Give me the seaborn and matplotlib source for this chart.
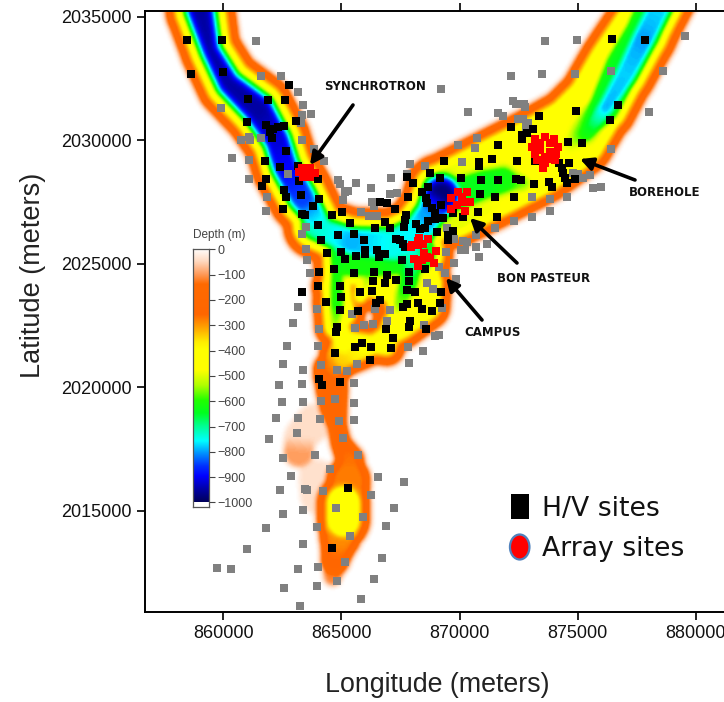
import numpy as np
import pandas as pd
import matplotlib
matplotlib.use("Agg")
import matplotlib.pyplot as plt
from matplotlib.colors import LinearSegmentedColormap
from matplotlib.patches import Rectangle, Ellipse
import seaborn as sns

# --- site readings (longitude km, latitude km) ---
hv_nw = [(858.48,2034.04),(859.93,2034.04),(858.62,2032.66),(859.97,2032.75),(862.80,2032.23),(861.04,2031.67),
 (861.91,2031.62),(862.63,2031.62),(861.00,2030.72),(863.09,2030.77),(861.82,2030.59),(862.58,2030.58),(862.33,2030.53),
 (862.12,2030.45),(861.98,2030.34),(862.06,2030.09),(862.67,2029.57),(861.78,2029.14),(862.40,2028.92),(863.18,2028.96),
 (863.20,2028.35),(861.81,2028.41),(861.62,2028.14)]
hv_ne = [(876.47,2034.08),(877.84,2034.03),(876.70,2031.40),(876.39,2030.81),(874.95,2031.16),(873.37,2030.99),(872.18,2030.51),
 (873.12,2030.43),(872.87,2030.30),(872.63,2030.20),(872.63,2030.03),(871.62,2029.78),(874.61,2029.91),(875.20,2029.87),
 (869.36,2029.14),(870.83,2029.12),(870.81,2028.95),(871.36,2029.22),(872.43,2029.14),(873.20,2029.14),(874.65,2029.08),
 (874.23,2029.06),(874.32,2028.85),(874.40,2028.65),(874.47,2028.45),(874.56,2028.27),(874.89,2028.41),(872.60,2028.37),
 (873.15,2028.21),(873.79,2028.31),(873.93,2028.08)]
hv_centre = [(867.78,2028.49),(868.04,2028.25),(868.76,2028.68),(869.19,2028.46),(870.08,2028.46),(870.92,2028.38),(871.64,2028.38),
 (872.38,2028.41),(863.99,2028.41),(862.58,2027.98),(862.67,2027.71),(863.30,2027.77),(864.06,2027.60),(863.81,2027.34),
 (862.54,2027.21),(863.32,2027.00),(863.46,2026.96),(864.62,2026.96),(865.01,2027.08),(864.02,2026.56),(865.35,2026.65),
 (867.83,2027.68),(868.68,2028.11),(868.42,2027.91),(868.57,2027.64),(868.64,2027.44),(868.82,2027.23),(868.96,2027.03),
 (869.23,2027.37),(870.88,2027.81),(871.49,2027.68),(872.32,2027.70),(866.63,2027.50),(866.92,2027.44),(867.27,2027.19),
 (867.73,2026.96),(867.69,2026.76),(867.65,2026.49),(866.84,2026.69),(867.06,2026.42),(866.42,2026.42),(868.16,2026.59),
 (868.68,2026.73),(868.54,2026.42),(868.33,2026.38),(869.06,2026.26),(868.96,2026.79),(869.31,2026.83),(869.74,2027.03),
 (870.16,2026.90),(870.77,2027.08),(871.57,2026.87),(869.74,2026.32),(869.50,2026.15),(869.50,2025.95),(864.84,2026.14),
 (865.52,2026.18),(865.94,2025.95),(864.15,2025.96),(867.30,2025.98),(867.48,2025.95),(867.59,2025.79),(867.71,2025.65),
 (864.97,2025.48),(864.38,2025.41),(865.14,2025.17),(865.60,2025.30),(866.00,2025.55),(866.00,2025.37),(866.51,2025.55),
 (866.59,2025.28),(866.84,2025.37),(867.56,2025.14),(864.67,2024.76),(864.06,2024.67),(865.52,2024.63),(866.38,2024.67),
 (866.92,2024.53),(867.86,2024.67),(868.54,2024.78),(864.02,2024.09),(864.93,2024.10),(866.84,2024.20),(867.31,2024.33),
 (867.87,2024.29),(866.32,2024.29),(866.29,2023.89),(865.79,2023.86),(863.35,2023.86),(867.78,2023.93),(868.11,2023.85),
 (869.23,2023.85),(864.97,2023.63),(864.33,2023.43),(866.63,2023.52),(866.46,2023.41),(867.79,2023.35),(867.59,2023.25),
 (868.26,2023.39),(868.40,2023.17),(869.19,2023.39),(868.82,2023.08),(864.93,2023.12),(865.69,2023.08),(864.83,2022.42),
 (864.76,2022.21),(867.90,2022.67),(867.87,2022.44),(866.89,2022.34),(868.58,2022.34),(867.20,2021.97),(865.86,2021.77),
 (865.57,2021.63),(866.24,2021.63),(867.11,2021.57),(864.74,2021.39),(866.21,2021.09),(864.06,2020.31),(864.19,2020.08),
 (864.94,2020.19)]
hv_south = [(865.26,2015.91),(864.59,2013.50)]

grey_nw = [(861.39,2033.99),(861.60,2032.60),(862.46,2032.60),(863.18,2031.93),(863.39,2031.40),(863.35,2031.03),(863.73,2031.07),
 (863.27,2030.68),(859.90,2031.28),(860.75,2029.99),(861.09,2030.14),(861.14,2029.99),(861.60,2030.08),(863.32,2029.99),
 (863.85,2029.64),(860.37,2029.26),(861.10,2029.18),(864.28,2029.14),(861.10,2028.41),(862.75,2028.62),(861.86,2027.71),
 (861.81,2027.11),(867.90,2029.04),(868.54,2028.95),(867.10,2028.46),(867.76,2028.62),(865.60,2028.27),(864.84,2028.38),
 (864.94,2028.22),(866.25,2028.06),(865.15,2027.91),(865.29,2027.94),(867.06,2027.80),(867.34,2027.84),(865.08,2027.56),
 (866.28,2027.50),(865.83,2027.07),(866.17,2026.94),(866.52,2026.94),(866.36,2027.34),(863.50,2026.49),(863.32,2026.20)]
grey_ne = [(873.62,2034.02),(874.99,2034.06),(879.55,2034.20),(872.18,2032.60),(873.49,2032.66),(874.90,2032.66),(876.43,2032.78),
 (878.60,2032.78),(869.23,2032.05),(872.26,2031.58),(872.38,2031.44),(872.73,2031.46),(872.77,2031.32),(870.37,2031.15),
 (871.63,2031.11),(871.83,2030.97),(878.01,2031.15),(872.49,2030.84),(872.70,2030.84),(872.88,2030.70),(872.80,2030.54),
 (870.73,2030.07),(869.95,2029.80),(870.64,2029.69),(876.43,2029.65),(870.12,2029.12),(874.82,2028.65),(875.03,2028.62),
 (875.52,2028.57),(875.21,2028.45),(876.00,2028.10),(875.67,2028.04),(873.07,2027.68),(874.56,2027.71),(873.85,2027.60),
 (873.85,2027.11),(873.07,2026.90),(872.31,2026.73),(871.49,2026.42),(869.46,2026.45),(870.68,2026.14)]
grey_centre = [(869.77,2025.99),(870.16,2025.91),(870.33,2025.89),(871.18,2025.79),(870.68,2025.65),(870.84,2025.26),(870.06,2025.55),
 (870.23,2025.55),(869.43,2025.48),(869.77,2025.01),(869.14,2024.84),(869.38,2024.60),(869.84,2024.37),(868.64,2024.20),
 (868.89,2023.98),(863.49,2025.57),(863.53,2025.14),(863.67,2024.63),(863.18,2023.25),(863.98,2023.16),(865.46,2022.95),
 (866.42,2023.14),(867.06,2023.12),(866.94,2022.69),(862.94,2022.60),(864.06,2022.34),(865.56,2022.39),(865.96,2022.51),
 (866.32,2022.56),(869.27,2023.20),(868.51,2022.50),(868.96,2022.06),(869.12,2022.09),(862.71,2021.66),(864.02,2021.66),
 (867.83,2021.62),(868.47,2021.44),(862.51,2020.93),(864.12,2020.89),(865.66,2020.93),(867.86,2020.98),(863.39,2020.67),
 (864.80,2020.67),(865.22,2020.63),(863.35,2020.11),(865.52,2020.15)]
grey_south = [(862.37,2020.07),(862.50,2019.38),(863.39,2019.38),(864.15,2019.42),(864.74,2019.50),(865.52,2019.34),(862.24,2018.73),
 (863.18,2018.73),(864.08,2018.69),(864.90,2018.61),(865.52,2018.65),(861.93,2017.88),(863.13,2018.14),(865.05,2017.92),
 (862.54,2017.14),(863.90,2017.23),(865.69,2017.23),(864.50,2016.68),(862.88,2016.41),(866.55,2016.34),(867.65,2016.17),
 (862.41,2015.82),(863.47,2015.87),(863.53,2015.82),(864.21,2015.78),(866.25,2015.61),(867.23,2015.09),(864.79,2015.09),
 (862.54,2014.84),(863.39,2015.01),(865.93,2014.75),(861.81,2014.28),(863.98,2014.33),(866.89,2014.36),(865.35,2013.98),
 (863.39,2013.63),(861.00,2013.45),(866.70,2013.06),(859.73,2012.69),(860.33,2012.65),(863.18,2012.65),(864.02,2012.73),
 (865.17,2012.90),(866.37,2012.21),(864.80,2012.13),(863.98,2011.96),(862.58,2011.86),(865.81,2011.40),(863.26,2011.13)]

array_synchrotron = [(863.32,2028.85),(863.67,2028.85),(863.88,2028.68),(863.67,2028.49),(863.39,2028.52),(863.20,2028.72),(863.53,2028.69)]
array_bon_pasteur = [(869.95,2027.91),(870.33,2027.88),(869.62,2027.64),(870.44,2027.48),(870.09,2027.50),(869.62,2027.19),(870.23,2027.14),(869.88,2027.37),(870.09,2027.70)]
array_campus_a = [(868.28,2026.05),(868.68,2025.99),(868.00,2025.75),(868.47,2025.79),(868.26,2025.75),(867.95,2025.65),(868.26,2025.92)]
array_campus_b = [(868.61,2025.25),(868.99,2025.52),(868.07,2025.20),(868.92,2025.03),(868.26,2024.91),(868.50,2025.41),(868.75,2025.21),(868.40,2025.14)]
array_borehole = [(873.62,2030.11),(874.00,2030.03),(874.18,2029.73),(874.08,2029.43),(873.62,2029.33),(873.20,2029.43),(873.06,2029.73),
 (873.20,2030.03),(873.41,2029.87),(873.83,2029.87),(873.41,2029.60),(873.83,2029.53),(873.55,2028.85),(873.27,2029.19),(874.04,2029.19),(873.62,2029.06),(873.69,2029.22)]

# --- basin thalwegs: (lon km, lat km, depth cap m, half width km) ---
nw_valley = [(858.95,2035.9,950,1.5),(859.01,2035.26,950,1.5),(859.44,2033.64,950,1.3),(860.21,2032.29,950,1.4),(861.48,2031.22,950,1.55),
 (862.26,2030.0,920,1.45),(862.61,2028.92,900,1.45),(863.32,2027.7,850,1.45),(864.16,2026.5,740,1.25)]
central_trough = [(863.81,2026.49,720,1.3),(865.43,2025.88,790,1.4),(867.20,2025.75,750,1.5),(868.19,2026.22,760,1.5),(868.75,2027.03,800,1.45),(869.24,2027.77,980,1.7)]
basin_floor = [(865.36,2025.21,620,1.5),(866.63,2025.21,620,1.5),(868.26,2025.41,640,1.5)]
west_arm = [(864.80,2026.09,720,1.05),(864.80,2024.74,620,1.0),(864.80,2023.39,610,1.05),(864.73,2022.44,540,.9)]
east_arm = [(868.04,2025.28,730,1.2),(867.83,2024.20,640,1.15),(867.48,2023.39,560,1.0),(867.20,2022.85,500,.7)]
mid_arm = [(866.21,2024.60,560,.95),(865.79,2023.66,480,.7)]
fill_centre = [(866.63,2024.74,470,1.6),(868.04,2024.33,470,1.6)]
fill_west = [(864.66,2024.06,450,.95),(865.08,2022.98,450,.95)]
fill_east = [(868.04,2023.12,440,.95),(867.20,2022.44,440,.95)]
fill_south = [(865.22,2021.90,420,.8),(866.92,2021.63,420,.8)]
sw_plateau = [(864.73,2022.98,420,.85),(865.08,2021.77,420,.85),(864.52,2020.69,250,.75)]
south_rim = [(868.75,2024.20,480,.95),(868.68,2023.25,440,.95),(867.62,2022.44,420,.9),(866.21,2021.63,420,.8),(865.08,2021.23,350,.85),(864.38,2020.42,250,.7)]
island_rim = [(866.49,2023.45,250,.55),(866.92,2022.85,250,.55),(866.63,2022.04,250,.55)]
south_tail = [(864.52,2020.69,250,.85),(864.59,2019.88,250,.8),(864.66,2019.20,250,.7),(864.83,2018.39,250,.52),(864.97,2017.72,250,.55),
 (865.36,2017.04,270,.72),(865.29,2016.23,280,1.05),(865.22,2015.63,280,1.1),(865.08,2015.29,470,1.15),(865.08,2014.62,450,1.15),
 (864.94,2013.94,290,1.0),(864.73,2012.99,260,.72),(864.62,2012.32,120,.45)]
pale_west = [(863.81,2018.53,45,.8),(863.25,2018.0,45,.7),(863.18,2017.38,100,.7)]
pale_south = [(863.95,2016.3,40,.8),(864.0,2015.6,40,.8)]
ne_envelope = [(878.63,2035.94,450,1.5),(877.92,2034.86,450,1.6),(876.65,2032.97,450,1.65),(875.81,2031.48,450,1.7),(874.82,2030.27,480,1.9),
 (873.27,2029.33,470,2.0),(871.29,2028.38,480,2.0),(869.60,2027.57,500,2.0)]
ne_mid = [(878.20,2035.26,640,1.5),(877.78,2034.32,640,1.5),(876.94,2032.97,640,1.5),(876.16,2031.35,640,1.4),(875.17,2030.27,560,1.15),(874.75,2029.87,500,.95)]
ne_deep = [(878.63,2035.67,770,1.35),(877.78,2034.05,800,1.35),(877.07,2032.70,780,1.3),(876.23,2031.35,790,1.2),(875.38,2030.27,620,1.1),(874.68,2029.87,520,.9)]
ne_green = [(869.90,2027.80,640,1.4),(871.01,2028.18,640,1.35),(871.85,2028.38,620,1.3),(872.70,2028.25,560,1.0)]
depth_chains = [nw_valley, central_trough, basin_floor, west_arm, east_arm, mid_arm, fill_centre, fill_west, fill_east, fill_south,
                sw_plateau, south_rim, island_rim, south_tail, pale_west, pale_south, ne_envelope, ne_mid, ne_deep, ne_green]

# depth (m) against distance inside the basin edge (km)
edge_distance = [0, .05, .12, .2, .45, .6, .8, .97, 1.05, 1.15, 1.45]
edge_depth = [0, 60, 120, 170, 285, 370, 490, 670, 770, 890, 1000]

x_ticks = [860000, 865000, 870000, 875000, 880000]
y_ticks = [2015000, 2020000, 2025000, 2030000, 2035000]
depth_ticks = [0, -100, -200, -300, -400, -500, -600, -700, -800, -900, -1000]
depth_stops = [(0,"#ffffff"),(50,"#ffd9c0"),(100,"#ff9c5c"),(140,"#ff6a00"),(260,"#ff6600"),(310,"#ffa000"),(370,"#ffee00"),
 (400,"#ffff00"),(480,"#ffff00"),(540,"#b0ff00"),(600,"#20ff00"),(650,"#00ff20"),(700,"#00ff90"),(760,"#00ffff"),
 (810,"#0090ff"),(860,"#0030ff"),(900,"#0000ff"),(950,"#0000a8"),(1000,"#00005c")]

def to_pix_x(px): return px / 724
def to_pix_y(py): return 1 - py / 702

sns.set_style("ticks")
plt.rcParams["font.family"] = ["Liberation Sans", "DejaVu Sans"]

# rasterise thalwegs
xs = np.arange(856.4, 881.5, 0.05)
ys = np.arange(2010.6, 2035.6, 0.05)
X, Y = np.meshgrid(xs, ys)
field = np.zeros_like(X)
for chain in depth_chains:
    for (x0, y0, d0, w0), (x1, y1, d1, w1) in zip(chain[:-1], chain[1:]):
        dx, dy = x1 - x0, y1 - y0
        t = np.clip(((X - x0) * dx + (Y - y0) * dy) / (dx * dx + dy * dy), 0, 1)
        dist = np.hypot(X - x0 - t * dx, Y - y0 - t * dy)
        d = d0 + t * (d1 - d0)
        w = w0 + t * (w1 - w0) + np.where(d > 300, 0.1, 0.0)
        inside = np.clip(w - dist, 0, None)
        field = np.maximum(field, np.minimum(d, np.interp(inside, edge_distance, edge_depth)))
kernel = np.ones(5) / 5
for _ in range(2):
    field = np.apply_along_axis(lambda v: np.convolve(v, kernel, mode="same"), 0, field)
    field = np.apply_along_axis(lambda v: np.convolve(v, kernel, mode="same"), 1, field)

cmap = LinearSegmentedColormap.from_list("depth", [(a / 1000, c) for a, c in depth_stops])

def frame(*groups):
    pts = [p for g in groups for p in g]
    return pd.DataFrame({"lon": [p[0] * 1000 for p in pts], "lat": [p[1] * 1000 for p in pts]})

fig = plt.figure(figsize=(7.24, 7.02), dpi=100)
ax = fig.add_axes([145 / 724, 1 - 611.7 / 702, (724 - 145) / 724, (611.7 - 10.5) / 702])
ax.imshow(field, origin="lower", extent=[xs[0] * 1000, xs[-1] * 1000, ys[0] * 1000, ys[-1] * 1000],
          cmap=cmap, vmin=0, vmax=1000, interpolation="bilinear", aspect="auto", zorder=1)

sns.scatterplot(data=frame(grey_nw, grey_ne, grey_centre, grey_south), x="lon", y="lat", marker="s", s=32,
                color="#808080", linewidth=0, ax=ax, zorder=3, legend=False)
sns.scatterplot(data=frame(hv_nw, hv_ne, hv_centre, hv_south), x="lon", y="lat", marker="s", s=30,
                color="black", linewidth=0, ax=ax, zorder=4, legend=False)
sns.scatterplot(data=frame(array_synchrotron, array_bon_pasteur, array_campus_a, array_campus_b, array_borehole),
                x="lon", y="lat", marker="s", s=36, color="#ff0000", linewidth=0, ax=ax, zorder=5, legend=False)

ax.set_xlim(856685, 881198)
ax.set_ylim(2010903, 2035243)
ax.set_xticks(x_ticks)
ax.set_yticks(y_ticks)
ax.ticklabel_format(style="plain", useOffset=False)
ax.tick_params(axis="both", which="major", length=5.5, width=1.3, labelsize=13, colors="#111111", pad=4,
               top=True, bottom=True, left=True, right=False)
for name, spine in ax.spines.items():
    spine.set_linewidth(1.4)
    spine.set_color("black")
ax.spines["right"].set_visible(False)
ax.set_xlabel("")
ax.set_ylabel("")

fig.text(to_pix_x(437.5), to_pix_y(685), "Longitude (meters)", fontsize=19.3, ha="center", va="center", color="#222222")
fig.text(to_pix_x(33), to_pix_y(275), "Latitude (meters)", fontsize=19.5, ha="center", va="center", rotation=90, color="#222222")

# colour scale
cax = fig.add_axes([192.7 / 724, 1 - 507 / 702, 16 / 724, (507 - 249.3) / 702])
cax.imshow(np.linspace(0, 1000, 256)[:, None], cmap=cmap, vmin=0, vmax=1000, extent=[0, 1, -1000, 0], aspect="auto", origin="upper")
cax.set_ylim(-1018, 0)
cax.set_xlim(0, 1)
cax.set_xticks([])
cax.yaxis.tick_right()
cax.set_yticks(depth_ticks)
cax.tick_params(axis="y", length=4.5, width=0.8, labelsize=9, colors="#444444", pad=1.5)
for spine in cax.spines.values():
    spine.set_linewidth(0.9)
    spine.set_color("#555555")
fig.text(to_pix_x(193), to_pix_y(235), "Depth (m)", fontsize=8.5, color="#444444", ha="left", va="center")

# arrows and site names
callouts = [("SYNCHROTRON", 375, 87, 353, 105, 310, 165),
            ("BOREHOLE", 665, 192, 635, 180, 580, 159),
            ("BON PASTEUR", 544, 278, 517, 263, 470, 218),
            ("CAMPUS", 493, 333, 482, 320, 446, 278)]
for name, tx, ty, x0, y0, x1, y1 in callouts:
    fig.text(to_pix_x(tx), to_pix_y(ty), name, fontsize=8.5, family="DejaVu Sans", color="#111111",
             ha="center", va="center", fontweight="semibold", zorder=10)
    ax.annotate("", xy=(to_pix_x(x1), to_pix_y(y1)), xytext=(to_pix_x(x0), to_pix_y(y0)),
                xycoords="figure fraction", textcoords="figure fraction", zorder=9,
                arrowprops=dict(arrowstyle="-|>,head_length=0.75,head_width=0.38", lw=2.6, color="black",
                                shrinkA=0, shrinkB=0))

# key
fig.add_artist(Rectangle((510.7 / 724, 1 - 518.7 / 702), 18.6 / 724, 24.7 / 702, transform=fig.transFigure,
                         facecolor="black", edgecolor="none"))
fig.add_artist(Ellipse((519.7 / 724, 1 - 547 / 702), 19.5 / 724, 25 / 702, transform=fig.transFigure,
                       facecolor="#ff0000", edgecolor="#4f81bd", linewidth=1.6))
fig.text(to_pix_x(542), to_pix_y(509), "H/V sites", fontsize=19.2, family="DejaVu Sans", color="#111111", ha="left", va="center")
fig.text(to_pix_x(542), to_pix_y(549), "Array sites", fontsize=19.2, family="DejaVu Sans", color="#111111", ha="left", va="center")

fig.savefig("out.png", dpi=100, facecolor="white")
